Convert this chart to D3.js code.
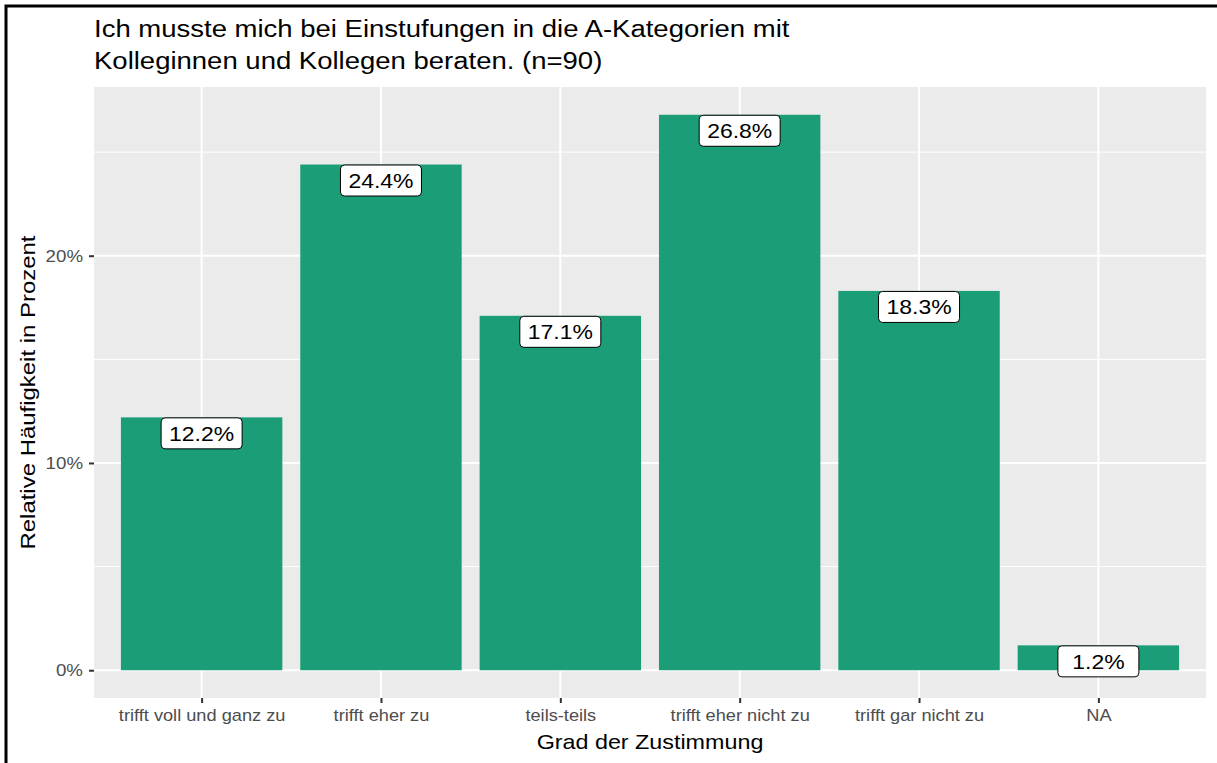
<!DOCTYPE html>
<html lang="de">
<head>
<meta charset="UTF-8">
<title>Einstufungen A-Kategorien</title>
<script src="https://cdnjs.cloudflare.com/ajax/libs/d3/7.8.5/d3.min.js"></script>
<style>
  body { margin: 0; background: #fff; }
  svg { display: block; font-family: "Liberation Sans", Arial, sans-serif; }
</style>
</head>
<body>
<svg width="1217" height="763"></svg>
<script>
// Daten
const categories = ["trifft voll und ganz zu", "trifft eher zu", "teils-teils",
                    "trifft eher nicht zu", "trifft gar nicht zu", "NA"];
const percentages = [12.2, 24.4, 17.1, 26.8, 18.3, 1.2];
const majorTicks = [0, 10, 20];
const minorTicks = [5, 15, 25];
const titleLines = ["Ich musste mich bei Einstufungen in die A-Kategorien mit",
                    "Kolleginnen und Kollegen beraten. (n=90)"];

const svg = d3.select("svg");
const panel = { left: 94, right: 1206, top: 87, bottom: 698 };

// Schrift im Original ist etwas breiter gesetzt
function widen(sel, f) {
    sel.each(function () {
        const w = this.getComputedTextLength();
        d3.select(this).attr("textLength", w * f).attr("lengthAdjust", "spacingAndGlyphs");
    });
}

// ggplot-artige Skalen mit Expansion
const maxV = d3.max(percentages);
const y = d3.scaleLinear()
    .domain([-maxV * 0.05, maxV * 1.05])
    .range([panel.bottom, panel.top]);

const unit = (panel.right - panel.left) / (categories.length - 1 + 1.2);
const x = d3.scalePoint()
    .domain(categories)
    .range([panel.left + 0.6 * unit, panel.right - 0.6 * unit]);
const barW = 0.9 * unit;

// Rahmen (links/oben sichtbar)
svg.append("path")
    .attr("d", "M6,780V6H1230")
    .attr("fill", "none")
    .attr("stroke", "#000")
    .attr("stroke-width", 3);

// Panel
svg.append("rect")
    .attr("x", panel.left).attr("y", panel.top)
    .attr("width", panel.right - panel.left)
    .attr("height", panel.bottom - panel.top)
    .attr("fill", "#EBEBEB");

const grid = svg.append("g");
grid.selectAll(".minor").data(minorTicks).enter().append("line")
    .attr("x1", panel.left).attr("x2", panel.right)
    .attr("y1", d => y(d)).attr("y2", d => y(d))
    .attr("stroke", "#fff").attr("stroke-width", 1);
grid.selectAll(".major").data(majorTicks).enter().append("line")
    .attr("x1", panel.left).attr("x2", panel.right)
    .attr("y1", d => y(d)).attr("y2", d => y(d))
    .attr("stroke", "#fff").attr("stroke-width", 2);
grid.selectAll(".vmajor").data(categories).enter().append("line")
    .attr("x1", d => x(d)).attr("x2", d => x(d))
    .attr("y1", panel.top).attr("y2", panel.bottom)
    .attr("stroke", "#fff").attr("stroke-width", 2);

// Balken
svg.append("g").selectAll("rect")
    .data(categories).enter().append("rect")
    .attr("x", d => x(d) - barW / 2)
    .attr("width", barW)
    .attr("y", (d, i) => y(percentages[i]))
    .attr("height", (d, i) => y(0) - y(percentages[i]))
    .attr("fill", "#1B9E77");

// Beschriftungen (geom_label, vjust = 1)
const labels = svg.append("g").selectAll("g")
    .data(categories).enter().append("g")
    .attr("transform", (d, i) => `translate(${x(d)},${y(percentages[i])})`);
labels.append("rect")
    .attr("x", -40.5).attr("y", 0.5)
    .attr("width", 81).attr("height", 31)
    .attr("rx", 4).attr("ry", 4)
    .attr("fill", "#fff").attr("stroke", "#000").attr("stroke-width", 1);
labels.append("text")
    .attr("x", 0).attr("y", 23.5)
    .attr("text-anchor", "middle")
    .attr("font-size", 20.5)
    .attr("fill", "#000")
    .text((d, i) => percentages[i].toFixed(1) + "%")
    .call(widen, 1.12);

// Achsen
const yAxis = d3.axisLeft(y)
    .tickValues(majorTicks)
    .tickSize(5).tickPadding(6)
    .tickFormat(d => d + "%");
svg.append("g")
    .attr("transform", `translate(${panel.left},0)`)
    .call(yAxis)
    .call(g => g.select(".domain").remove())
    .call(g => g.selectAll("line").attr("stroke", "#333").attr("stroke-width", 2))
    .call(g => g.selectAll("text").attr("fill", "#4D4D4D").attr("font-size", 17)
        .attr("font-family", "Liberation Sans, Arial, sans-serif").call(widen, 1.1));

const xAxis = d3.axisBottom(x).tickSize(5).tickPadding(6);
svg.append("g")
    .attr("transform", `translate(0,${panel.bottom})`)
    .call(xAxis)
    .call(g => g.select(".domain").remove())
    .call(g => g.selectAll("line").attr("stroke", "#333").attr("stroke-width", 2))
    .call(g => g.selectAll("text").attr("fill", "#4D4D4D").attr("font-size", 17)
        .attr("font-family", "Liberation Sans, Arial, sans-serif").call(widen, 1.07));

// Achsentitel
svg.append("text")
    .attr("x", (panel.left + panel.right) / 2).attr("y", 749)
    .attr("text-anchor", "middle")
    .attr("font-size", 21)
    .text("Grad der Zustimmung")
    .call(widen, 1.11);

svg.append("text")
    .attr("transform", `translate(35,${(panel.top + panel.bottom) / 2}) rotate(-90)`)
    .attr("text-anchor", "middle")
    .attr("font-size", 21)
    .text("Relative Häufigkeit in Prozent")
    .call(widen, 1.14);

// Titel
svg.append("g").selectAll("text")
    .data(titleLines).enter().append("text")
    .attr("x", panel.left)
    .attr("y", (d, i) => 37 + i * 32)
    .attr("font-size", 23.5)
    .text(d => d)
    .call(widen, 1.17);
</script>
</body>
</html>
